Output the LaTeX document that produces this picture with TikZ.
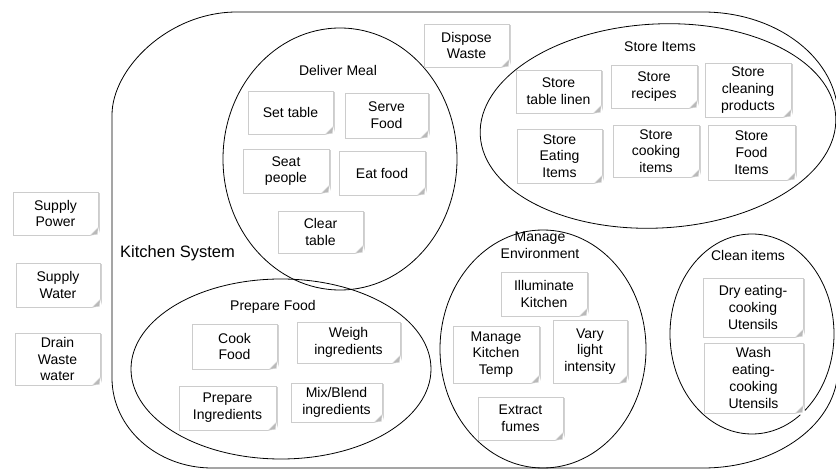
\documentclass[tikz,border=0pt]{standalone}
\usepackage{fontspec}
\setmainfont{Liberation Sans}
\usetikzlibrary{shadows}
\tikzset{
  note/.style={draw=gray!40, fill=white, line width=0.6pt, inner sep=1pt, align=center,
    font=\fontsize{14}{16.8}\selectfont,
    drop shadow={shadow xshift=1.5pt, shadow yshift=-1.5pt, opacity=0.35, fill=gray}},
  fold/.style={fill=gray!55, draw=gray!30, line width=0.4pt},
  ring/.style={draw=black, line width=0.8pt},
  lbl/.style={font=\fontsize{14}{16.8}\selectfont, align=center, inner sep=0pt}
}
\newcommand\stickynote[6]{%
  \node[note, minimum width={#4-#2}, minimum height={#5-#3}] (#1) at ({(#2+#4)/2},{(#3+#5)/2}) {#6};
  \fill[white] ([xshift=-8pt]#1.south east) -- ([xshift=3pt,yshift=-3pt]#1.south east) -- ([yshift=8pt]#1.south east) -- cycle;
  \filldraw[fold] ([xshift=-8pt]#1.south east) -- ([xshift=-1pt,yshift=1pt]#1.south east) -- ([yshift=8pt]#1.south east) -- cycle;
}
\begin{document}
\begin{tikzpicture}[x=1pt,y=-1pt]
\useasboundingbox (0,0) rectangle (836,470);
\clip (0,0) rectangle (836,470);
\fill[white] (0,0) rectangle (836,470);

% Kitchen system boundary
\draw[ring] (112,115) -- (112,378)
  .. controls (112,{378+0.552*90}) and ({212-0.552*100},468) .. (212,468)
  -- (703,468)
  .. controls ({703+0.552*135},468) and (838,{368+0.552*100}) .. (838,368)
  -- (838,117)
  .. controls (838,{117-0.552*105}) and ({703+0.552*135},12) .. (703,12)
  -- (237,12)
  .. controls ({237-0.552*125},12) and (112,{12+0.552*103}) .. (112,115) -- cycle;

% inner groups
\draw[ring] (340,159) ellipse [x radius=117, y radius=131];
\draw[ring, rotate around={3:(658,126)}] (658,126) ellipse [x radius=178, y radius=102];
\draw[ring] (281,369) ellipse [x radius=150, y radius=90];
\draw[ring] (543,349) ellipse [x radius=103, y radius=119];
\draw[ring] (752,334) ellipse [x radius=82, y radius=100];

% labels
\node[lbl, anchor=west, font=\fontsize{16.5}{19}\selectfont] (ks) at (120,253) {Kitchen System};
\node[lbl] (dm) at (338,70) {Deliver Meal};
\node[lbl] (si) at (660,47) {Store Items};
\node[lbl] (pf) at (273,307) {Prepare Food};
\node[lbl] (me) at (540,245) {Manage\\Environment};
\node[lbl] (ci) at (748,255) {Clean items};

% external notes
\stickynote{sp}{13}{192}{98}{235}{Supply\\Power}
\stickynote{sw}{16}{263}{100}{307}{Supply\\Water}
\stickynote{dw}{15}{333}{100}{385}{Drain\\Waste\\water}
\stickynote{dsp}{424}{24}{509}{67}{Dispose\\Waste}

% deliver meal
\stickynote{st}{248}{91}{333}{134}{Set table}
\stickynote{sf}{345}{93}{428}{138}{Serve\\Food}
\stickynote{spe}{243}{149}{329}{193}{Seat\\people}
\stickynote{ef}{339}{151}{425}{195}{Eat food}
\stickynote{ct}{278}{211}{363}{253}{Clear\\table}

% store items
\stickynote{stl}{516}{70}{601}{113}{Store\\table linen}
\stickynote{sr}{611}{65}{697}{108}{Store\\recipes}
\stickynote{sc}{705}{63}{791}{117}{Store\\cleaning\\products}
\stickynote{se}{517}{129}{602}{183}{Store\\Eating\\Items}
\stickynote{sci}{613}{125}{699}{177}{Store\\cooking\\items}
\stickynote{sfi}{708}{125}{795}{180}{Store\\Food\\Items}

% prepare food
\stickynote{cf}{192}{324}{277}{369}{Cook\\Food}
\stickynote{wi}{297}{322}{400}{363}{Weigh\\ingredients}
\stickynote{pi}{179}{386}{276}{430}{Prepare\\Ingredients}
\stickynote{mb}{291}{383}{382}{422}{Mix/Blend\\ingredients}

% manage environment
\stickynote{ik}{501}{272}{587}{316}{Illuminate\\Kitchen}
\stickynote{mkt}{453}{326}{539}{383}{Manage\\Kitchen\\Temp}
\stickynote{vli}{553}{320}{627}{383}{Vary\\light\\intensity}
\stickynote{exf}{478}{397}{563}{440}{Extract\\fumes}

% clean items
\stickynote{dry}{703}{278}{803}{337}{Dry eating-\\cooking\\Utensils}
\stickynote{wash}{704}{343}{803}{413}{Wash\\eating-\\cooking\\Utensils}
\end{tikzpicture}
\end{document}
